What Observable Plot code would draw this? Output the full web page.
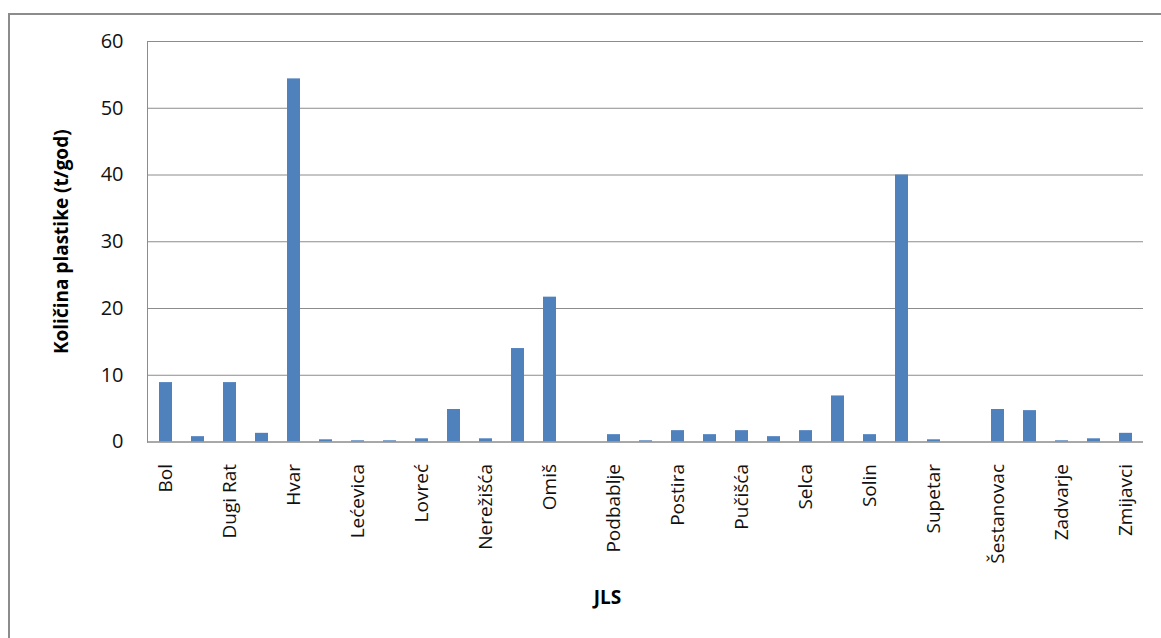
<!DOCTYPE html>
<html>
<head>
<meta charset="utf-8">
<script src="https://cdn.jsdelivr.net/npm/d3@7"></script>
<script src="https://cdn.jsdelivr.net/npm/@observablehq/plot@0.6"></script>
<style>
  html, body { margin: 0; padding: 0; background: #fff; overflow: hidden; }
  #wrap { position: relative; width: 1161px; height: 638px; overflow: hidden; }
  #border { position: absolute; left: 8px; top: 13px; width: 1300px; height: 800px; border: 2px solid #8c8c8c; box-sizing: border-box; }
  #chart { position: absolute; left: 0; top: 0; }
</style>
</head>
<body>
<div id="wrap"><div id="border"></div><div id="chart"></div></div>
<script>
// Categories (JLS) and values (t/god)
const jls = ["Bol","Brela","Dugi Rat","Dugopolje","Hvar","Jelsa","Lećevica","Lokvičići","Lovreć","Marina",
  "Nerežišća","Okrug","Omiš","Otok","Podbablje","Podgora","Postira","Primorski Dolac","Pučišća","Runovići",
  "Selca","Sinj","Solin","Stari Grad","Supetar","Sutivan","Šestanovac","Šolta","Zadvarje","Zagvozd","Zmijavci"];
const kolicina = [8.9,0.8,8.9,1.3,54.4,0.33,0.18,0.18,0.48,4.87,
  0.48,14.0,21.7,0,1.1,0.18,1.7,1.1,1.7,0.8,
  1.7,6.9,1.1,40,0.33,0,4.87,4.7,0.18,0.48,1.3];
const labeledTicks = jls.filter((d, i) => i % 2 === 0);
const yTicks = [0,10,20,30,40,50,60];
const yTitle = "Količina plastike (t/god)";
const xTitle = "JLS";

const data = jls.map((name, i) => ({name, value: kolicina[i]}));

const chart = Plot.plot({
  width: 1161,
  height: 638,
  marginLeft: 147,
  marginRight: 18,
  marginTop: 41,
  marginBottom: 196.5,
  style: {fontFamily: "'Open Sans', sans-serif", fontSize: "19px", color: "#111", background: "transparent"},
  x: {domain: jls, paddingInner: 0.6, paddingOuter: 0.3, axis: null},
  y: {domain: [0, 60], axis: null},
  marks: [
    Plot.gridY(yTicks, {stroke: "#8c8c8c", strokeOpacity: 1}),
    Plot.frame({anchor: "left", stroke: "#8c8c8c"}),
    Plot.barY(data, {x: "name", y: "value", fill: "#4F81BD"}),
    Plot.ruleY([0], {stroke: "#8c8c8c"}),
    Plot.axisY({ticks: yTicks, tickSize: 0, tickPadding: 24, label: null, fontSize: 20}),
    Plot.axisX({ticks: labeledTicks, tickSize: 0, tickPadding: 22, tickRotate: -90, label: null, fontSize: 19}),
    Plot.text([yTitle], {frameAnchor: "left", text: d => d, rotate: -90, textAnchor: "middle", dx: -86, fontWeight: "bold", fontSize: 19, fill: "#000"}),
    Plot.text([xTitle], {frameAnchor: "bottom", text: d => d, dx: -38, dy: 161.5, fontWeight: "bold", fontSize: 19, fill: "#000"})
  ]
});
document.getElementById("chart").appendChild(chart);
</script>
</body>
</html>
